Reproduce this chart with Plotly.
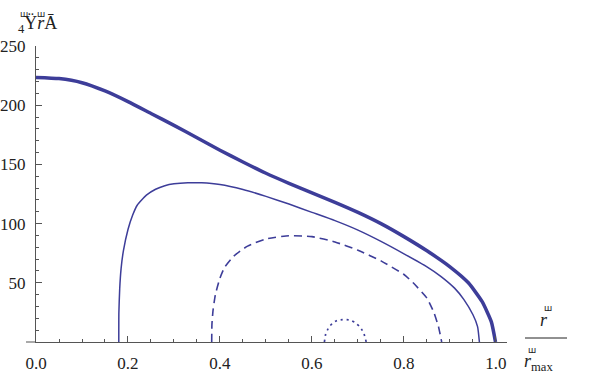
import plotly.graph_objects as go

# ---- data ----
thick_x = [0.0, 0.05, 0.10, 0.15, 0.20, 0.25, 0.30, 0.35, 0.40, 0.45, 0.50, 0.55, 0.60,
           0.65, 0.70, 0.75, 0.80, 0.85, 0.90, 0.94, 0.97, 0.99, 0.999]
thick_y = [223.5, 222.5, 219.0, 212.0, 203.0, 193.0, 183.0, 172.5, 162.0, 152.0, 142.5, 134.0, 126.0,
           118.0, 109.5, 100.0, 89.0, 77.0, 63.5, 50.0, 34.0, 17.0, 0.0]

thin_x = [0.180, 0.1802, 0.182, 0.185, 0.19, 0.20, 0.21, 0.22, 0.24, 0.26, 0.28, 0.30, 0.33,
          0.36, 0.40, 0.45, 0.50, 0.55, 0.60, 0.65, 0.70, 0.75, 0.80, 0.85, 0.88, 0.91,
          0.93, 0.95, 0.96, 0.964]
thin_y = [0.0, 25.0, 45.0, 62.0, 77.0, 95.0, 107.0, 115.5, 124.0, 129.0, 132.0, 133.6, 134.5,
          134.4, 133.0, 128.8, 123.0, 116.5, 109.5, 102.5, 94.5, 85.0, 74.5, 63.5, 55.5, 45.5,
          36.0, 23.0, 13.0, 0.0]

dash_x = [0.382, 0.3825, 0.385, 0.39, 0.40, 0.41, 0.43, 0.46, 0.50, 0.55, 0.60, 0.65,
          0.70, 0.75, 0.80, 0.82, 0.85, 0.865, 0.875, 0.882]
dash_y = [0.0, 15.0, 27.0, 40.0, 54.0, 63.0, 72.5, 81.0, 87.0, 89.8, 89.0, 84.5,
          77.5, 68.5, 57.0, 50.0, 37.0, 25.0, 13.0, 0.0]

dot_x = [0.627, 0.630, 0.637, 0.645, 0.655, 0.670, 0.685, 0.695, 0.705, 0.713, 0.718]
dot_y = [0.0, 7.0, 12.5, 16.0, 18.3, 19.0, 18.3, 16.0, 12.5, 7.0, 0.0]

x_ticks = [0.0, 0.2, 0.4, 0.6, 0.8, 1.0]
x_ticklabels = ["0.0", "0.2", "0.4", "0.6", "0.8", "1.0"]
y_ticks = [50, 100, 150, 200, 250]
y_ticklabels = ["50", "100", "150", "200", "250"]

COLOR = "#3d3d99"
AXC = "#555555"
FONT = "Liberation Serif"
TXT = "#222222"

fig = go.Figure()
fig.add_trace(go.Scatter(x=thick_x, y=thick_y, mode="lines",
                         line=dict(color=COLOR, width=3.5, shape="spline", smoothing=0.5)))
fig.add_trace(go.Scatter(x=thin_x, y=thin_y, mode="lines",
                         line=dict(color=COLOR, width=1.5, shape="spline", smoothing=0.5)))
fig.add_trace(go.Scatter(x=dash_x, y=dash_y, mode="lines",
                         line=dict(color=COLOR, width=1.6, dash="8px,5px", shape="spline", smoothing=0.5)))
fig.add_trace(go.Scatter(x=dot_x, y=dot_y, mode="lines",
                         line=dict(color=COLOR, width=1.7, dash="2px,4px", shape="spline", smoothing=0.5)))

fig.update_layout(
    width=589, height=378,
    margin=dict(l=36, r=82, t=46, b=36),
    paper_bgcolor="white", plot_bgcolor="white",
    showlegend=False,
    font=dict(family=FONT, size=17, color=TXT),
    xaxis=dict(range=[0, 1.024], showgrid=False, zeroline=False, automargin=False,
               showline=True, linecolor=AXC, linewidth=1,
               ticks="inside", ticklen=6, tickcolor=AXC, tickwidth=1,
               tickvals=x_ticks, ticktext=x_ticklabels, ticklabelstandoff=6,
               minor=dict(dtick=0.05, tick0=0, ticks="inside", ticklen=3, tickcolor=AXC)),
    yaxis=dict(range=[0, 250], showgrid=False, zeroline=False, automargin=False,
               showline=True, linecolor=AXC, linewidth=1,
               ticks="inside", ticklen=6, tickcolor=AXC, tickwidth=1,
               tickvals=y_ticks, ticktext=y_ticklabels, ticklabelstandoff=6,
               minor=dict(dtick=10, tick0=0, ticks="inside", ticklen=3, tickcolor=AXC)),
)

# x-axis line extends slightly left of the y axis
fig.add_shape(type="line", xref="paper", yref="paper", x0=-10/471, x1=0, y0=0, y1=0,
              line=dict(color=AXC, width=1))

def px(xp):
    return (xp - 36) / 471

def py(yp):
    return (342 - yp) / 296

MARK = dict(family="DejaVu Sans", size=9, color=TXT)

# y-axis label (top-left)
fig.add_annotation(xref="paper", yref="paper", x=px(16), y=py(25), xanchor="left", yanchor="middle",
                   text="<sub>4</sub>Ÿ<i>r</i>Ā", showarrow=False,
                   font=dict(family=FONT, size=18, color=TXT))
fig.add_annotation(xref="paper", yref="paper", x=px(24), y=py(14), xanchor="center", yanchor="middle",
                   text="ш", showarrow=False, font=MARK)
fig.add_annotation(xref="paper", yref="paper", x=px(41), y=py(14), xanchor="center", yanchor="middle",
                   text="ш", showarrow=False, font=MARK)

# x-axis label as a fraction r / r_max
fig.add_shape(type="line", xref="paper", yref="paper", x0=px(525), x1=px(567),
              y0=py(338), y1=py(338), line=dict(color=TXT, width=1))
fig.add_annotation(xref="paper", yref="paper", x=px(544), y=py(320),
                   xanchor="center", yanchor="middle", text="<i>r</i>", showarrow=False,
                   font=dict(family=FONT, size=18, color=TXT))
fig.add_annotation(xref="paper", yref="paper", x=px(548), y=py(308),
                   xanchor="center", yanchor="middle", text="ш", showarrow=False, font=MARK)
fig.add_annotation(xref="paper", yref="paper", x=px(522), y=py(362),
                   xanchor="left", yanchor="middle", text="<i>r</i><sub>max</sub>", showarrow=False,
                   font=dict(family=FONT, size=18, color=TXT))
fig.add_annotation(xref="paper", yref="paper", x=px(532), y=py(350),
                   xanchor="center", yanchor="middle", text="ш", showarrow=False, font=MARK)

fig.write_html("out.html")
